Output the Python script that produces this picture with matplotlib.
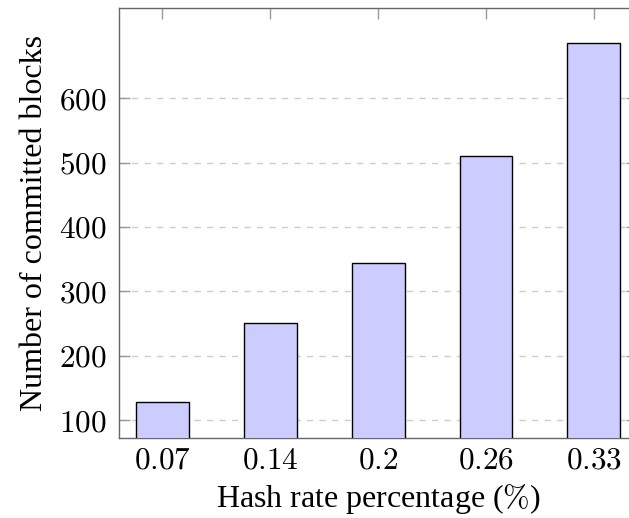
import matplotlib
matplotlib.use("Agg")
import matplotlib.pyplot as plt

plt.rcParams['font.family'] = ['Liberation Serif', 'DejaVu Serif']
plt.rcParams['mathtext.fontset'] = 'cm'

# data
hash_rates = ["0.07", "0.14", "0.2", "0.26", "0.33"]
committed_blocks = [128, 251, 344, 510, 685]
y_ticks = [100, 200, 300, 400, 500, 600]

fig = plt.figure(figsize=(6.29, 5.18), dpi=100)
# right spine sits just outside the picture, as in the reference
ax = fig.add_axes([0.1897, 0.1544, 0.823, 0.831])

pos = list(range(len(hash_rates)))
ax.bar(pos, committed_blocks, width=0.49, color="#ccccff",
       edgecolor="black", linewidth=1.0, zorder=3)

ax.set_xlim(-0.4, len(hash_rates) - 1 + 0.4)
ax.set_ylim(72.3, 740.7)

ax.set_xticks(pos)
ax.set_xticklabels(["$%s$" % h for h in hash_rates])
ax.set_yticks(y_ticks)
ax.set_yticklabels(["$%d$" % v for v in y_ticks])

ax.tick_params(axis="both", direction="in", length=8, width=1,
               color="#999999", labelsize=22.5, top=True, right=True)
ax.tick_params(axis="x", pad=6)
ax.tick_params(axis="y", pad=9)

ax.yaxis.grid(True, color="#cccccc", linestyle=(0, (4.5, 4.5)),
              linewidth=1.0, zorder=0)
ax.set_axisbelow(True)

for s in ax.spines.values():
    s.set_color("#666666")
    s.set_linewidth(1.0)

ax.set_xlabel(r"Hash rate percentage ($\%$)", fontsize=23, labelpad=5)
ax.set_ylabel("Number of committed blocks", fontsize=23, labelpad=7)

fig.savefig("out.png", dpi=100)
